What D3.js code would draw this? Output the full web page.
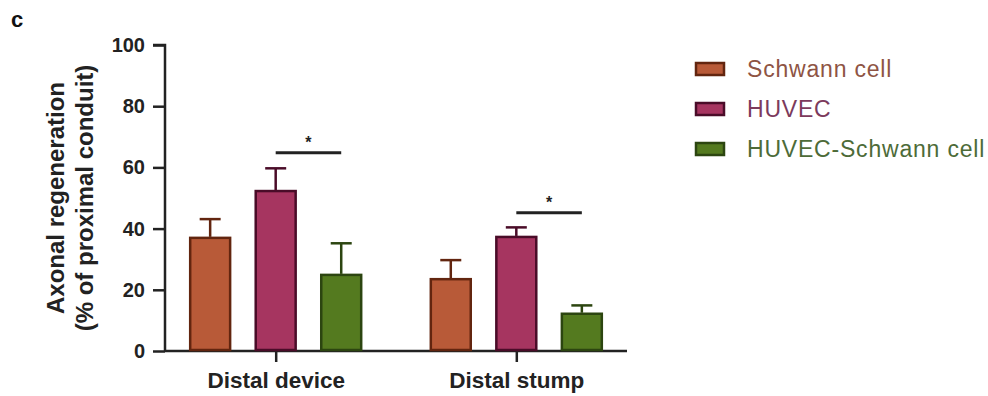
<!DOCTYPE html>
<html>
<head>
<meta charset="utf-8">
<script src="https://cdn.jsdelivr.net/npm/d3@7"></script>
<style>
  body { margin: 0; background: #fff; }
  svg { font-family: "Liberation Sans", Arial, sans-serif; }
</style>
</head>
<body>
<svg id="chart" width="988" height="396"></svg>
<script>
const groups = ["Distal device", "Distal stump"];
const series = ["Schwann cell", "HUVEC", "HUVEC-Schwann cell"];
const means = {
  "Schwann cell": [37.3, 23.8],
  "HUVEC": [52.6, 37.6],
  "HUVEC-Schwann cell": [25.2, 12.5]
};
const errors = {
  "Schwann cell": [5.8, 5.9],
  "HUVEC": [7.1, 2.8],
  "HUVEC-Schwann cell": [10.0, 2.4]
};
// significance brackets: group, from series, to series, height
const sigs = [
  { group: "Distal device", from: "HUVEC", to: "HUVEC-Schwann cell", y: 64.8 },
  { group: "Distal stump", from: "HUVEC", to: "HUVEC-Schwann cell", y: 45.2 }
];
const yTicks = [0, 20, 40, 60, 80, 100];

const fills = ["#b85a38", "#a63560", "#547a1f"];
const strokes = ["#62250f", "#4a0c28", "#2c4510"];
const textCols = ["#8e5444", "#7c3a5c", "#4d6b38"];

const svg = d3.select("#chart");

const y = d3.scaleLinear().domain([0, 100]).range([351, 45]);
const x0 = d3.scalePoint().domain(groups).range([165, 627]).padding(0.46);
const x1 = d3.scaleBand().domain(series).range([-86.5, 86.5]).paddingInner(0.36);
const color = d3.scaleOrdinal().domain(series).range(fills);
const dark = d3.scaleOrdinal().domain(series).range(strokes);

// panel letter
svg.append("text").attr("x", 11).attr("y", 27)
  .attr("font-size", 22).attr("font-weight", "bold").attr("fill", "#111").text("c");

// y axis
const yAxis = svg.append("g").attr("transform", "translate(165,0)")
  .call(d3.axisLeft(y).tickValues(yTicks).tickSize(12).tickPadding(8));
yAxis.select(".domain").attr("stroke", "#222").attr("stroke-width", 2.5)
  .attr("d", `M-12,${y(100)}H0V${y(0)}`);
yAxis.selectAll(".tick line").attr("stroke", "#222").attr("stroke-width", 2.5);
yAxis.selectAll(".tick text").attr("font-size", 20).attr("font-weight", "bold")
  .attr("fill", "#222").attr("font-family", "Liberation Sans, Arial, sans-serif");

// x axis
const xAxis = svg.append("g").attr("transform", `translate(0,${y(0)})`)
  .call(d3.axisBottom(x0).tickSize(11).tickPadding(10));
xAxis.select(".domain").attr("stroke", "#222").attr("stroke-width", 2.5)
  .attr("d", `M165,0H627`);
xAxis.selectAll(".tick line").attr("stroke", "#222").attr("stroke-width", 2.5);
xAxis.selectAll(".tick text").attr("font-size", 22.5).attr("font-weight", "bold")
  .attr("fill", "#222").attr("font-family", "Liberation Sans, Arial, sans-serif");

// y axis title
const title = svg.append("text")
  .attr("transform", "translate(0,198) rotate(-90)")
  .attr("text-anchor", "middle").attr("font-size", 24).attr("font-weight", "bold")
  .attr("fill", "#222");
title.append("tspan").attr("x", 0).attr("y", 64).text("Axonal regeneration");
title.append("tspan").attr("x", 0).attr("y", 93).text("(% of proximal conduit)");

// bars
const flat = [];
groups.forEach((g, gi) => series.forEach(s => flat.push({
  group: g, series: s, value: means[s][gi], err: errors[s][gi]
})));

const bars = svg.append("g");
bars.selectAll("line.err")
  .data(flat).enter().append("line")
  .attr("class", "err")
  .attr("x1", d => x0(d.group) + x1(d.series) + x1.bandwidth() / 2)
  .attr("x2", d => x0(d.group) + x1(d.series) + x1.bandwidth() / 2)
  .attr("y1", d => y(d.value))
  .attr("y2", d => y(d.value + d.err))
  .attr("stroke", d => dark(d.series)).attr("stroke-width", 2.5);
bars.selectAll("line.cap")
  .data(flat).enter().append("line")
  .attr("class", "cap")
  .attr("x1", d => x0(d.group) + x1(d.series) + x1.bandwidth() / 2 - 10.5)
  .attr("x2", d => x0(d.group) + x1(d.series) + x1.bandwidth() / 2 + 10.5)
  .attr("y1", d => y(d.value + d.err))
  .attr("y2", d => y(d.value + d.err))
  .attr("stroke", d => dark(d.series)).attr("stroke-width", 2.5);
bars.selectAll("rect")
  .data(flat).enter().append("rect")
  .attr("x", d => x0(d.group) + x1(d.series) + 1)
  .attr("width", x1.bandwidth() - 2)
  .attr("y", d => y(d.value) + 1)
  .attr("height", d => y(0) - y(d.value) - 2)
  .attr("fill", d => color(d.series))
  .attr("stroke", d => dark(d.series)).attr("stroke-width", 2.5);

// significance markers
const sigG = svg.append("g");
sigs.forEach(s => {
  const xa = x0(s.group) + x1(s.from) + x1.bandwidth() / 2;
  const xb = x0(s.group) + x1(s.to) + x1.bandwidth() / 2;
  sigG.append("line").attr("x1", xa).attr("x2", xb)
    .attr("y1", y(s.y)).attr("y2", y(s.y))
    .attr("stroke", "#222").attr("stroke-width", 3);
  sigG.append("text").attr("x", (xa + xb) / 2).attr("y", y(s.y) - 5)
    .attr("text-anchor", "middle").attr("font-size", 16).attr("font-weight", "bold")
    .attr("fill", "#222").text("*");
});

// legend
const legend = svg.append("g").attr("transform", "translate(695,62)");
series.forEach((s, i) => {
  const row = legend.append("g").attr("transform", `translate(0,${i * 40})`);
  row.append("rect").attr("x", 1).attr("y", 1).attr("width", 28).attr("height", 12)
    .attr("fill", fills[i]).attr("stroke", strokes[i]).attr("stroke-width", 2.5);
  row.append("text").attr("x", 52).attr("y", 15)
    .attr("font-size", 23).attr("letter-spacing", 0.8)
    .attr("fill", textCols[i]).text(s);
});
</script>
</body>
</html>
